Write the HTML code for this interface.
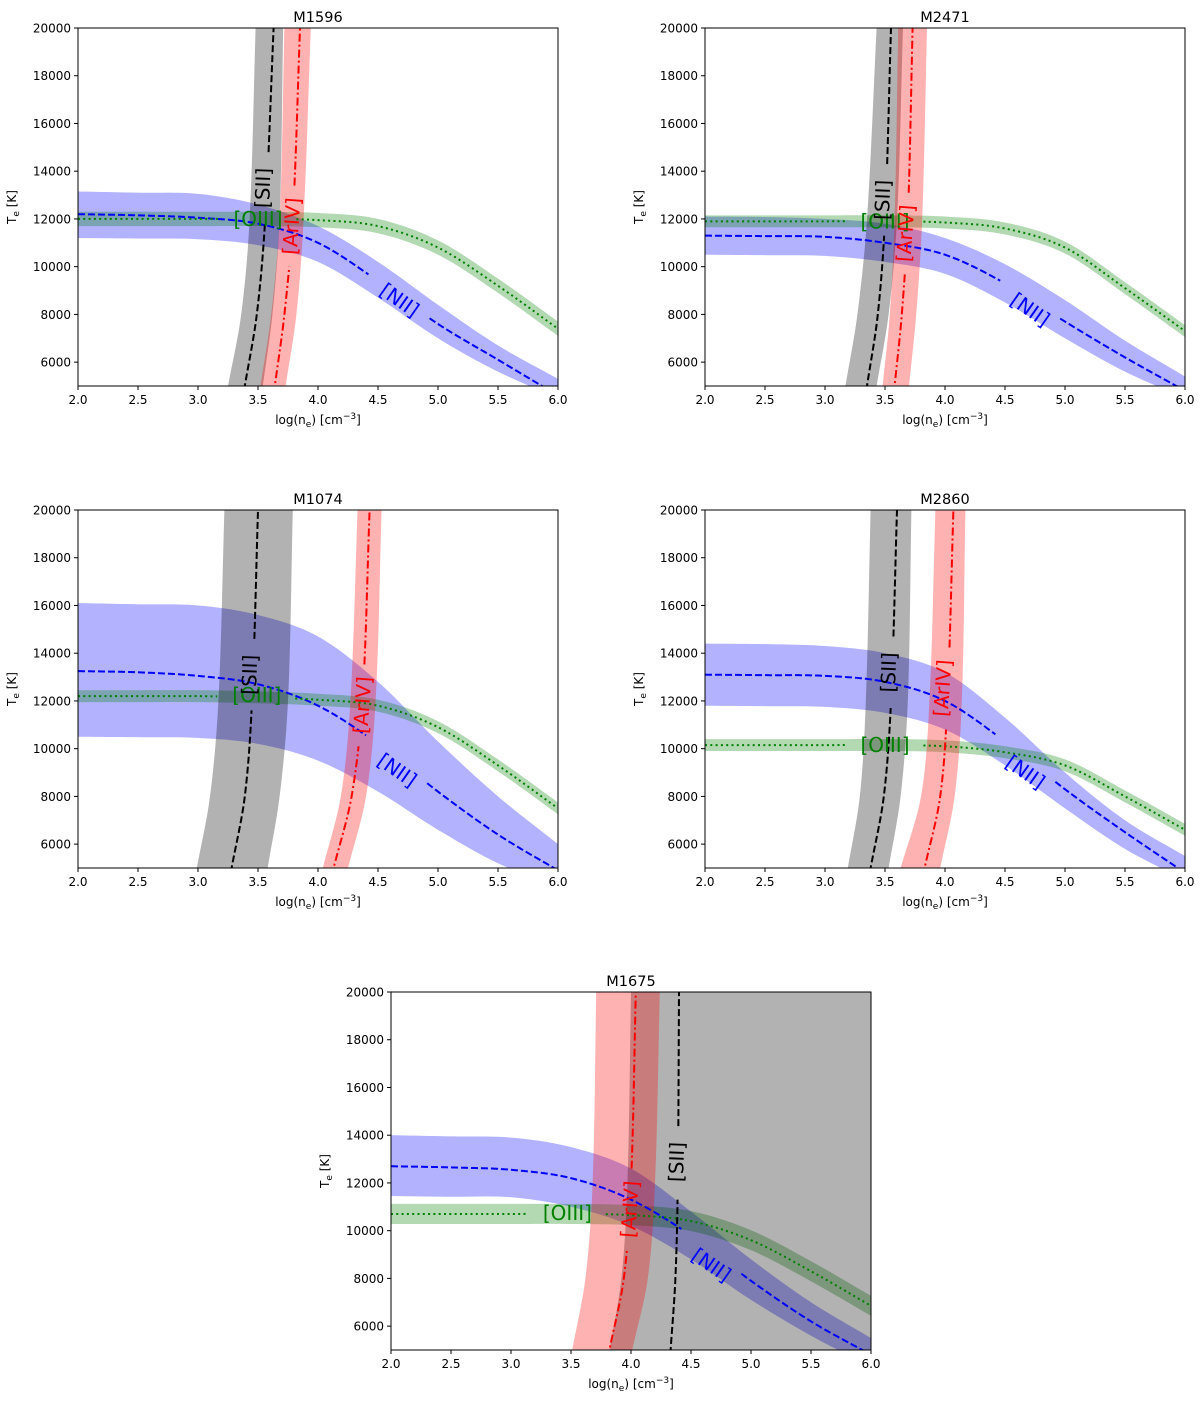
<!DOCTYPE html>
<html><head><meta charset="utf-8"><style>
body{margin:0;background:#fff;}
svg{display:block;font-family:"DejaVu Sans","Liberation Sans",sans-serif;}
</style></head><body>
<svg id="fig" width="1200" height="1401" viewBox="0 0 1200 1401"></svg>
<script>
const panelNames = ["M1596","M2471","M1074","M2860","M1675"];
const xGrid = [2,2.5,3,3.5,4,4.5,5,5.5,6];
const niiCenter = [
 [12200,12150,12050,11800,11000,9400,7600,6100,4600],
 [11300,11280,11250,11000,10500,9300,7700,6200,4800],
 [13250,13200,13050,12700,11800,10200,8200,6400,4900],
 [13100,13080,13050,12800,12000,10300,8300,6500,4800],
 [12700,12650,12550,12200,11300,9800,7900,6200,4800]];
const niiUpper = [
 [13150,13100,13050,12600,11700,10200,8400,6700,5300],
 [12100,12080,12000,11800,11200,10100,8600,6900,5400],
 [16100,16050,16000,15600,14700,12800,10300,8000,6000],
 [14400,14380,14300,14000,13200,11300,9000,7000,5500],
 [14000,13950,13900,13500,12600,10800,8800,7000,5500]];
const niiLower = [
 [11200,11180,11150,10900,10200,8700,7000,5600,4500],
 [10500,10480,10450,10200,9700,8500,7000,5600,4500],
 [10500,10480,10450,10200,9500,8200,6600,5200,4200],
 [11800,11780,11750,11500,10800,9300,7500,5800,4500],
 [11450,11420,11400,11000,10200,8800,7100,5600,4300]];
const oiiiCenter = [
 [12000,12000,12000,12000,11950,11700,10800,9200,7400],
 [11900,11900,11900,11900,11850,11600,10800,9100,7300],
 [12200,12200,12200,12150,12050,11800,10900,9300,7500],
 [10150,10150,10150,10150,10100,9850,9300,8000,6600],
 [10700,10700,10700,10700,10650,10400,9600,8300,6850]];
const oiiiHalf = [300,250,250,250,420];
const tGrid = [5000,8000,12000,20000];
const siiCenter = [[3.39,3.49,3.56,3.63],[3.35,3.44,3.50,3.55],[3.28,3.39,3.45,3.50],[3.38,3.49,3.55,3.60],[4.33,4.37,4.39,4.40]];
const siiLeft = [[3.25,3.36,3.43,3.48],[3.17,3.27,3.35,3.43],[2.99,3.10,3.17,3.22],[3.19,3.29,3.34,3.38],[3.82,3.92,3.97,4.00]];
const siiRight = [[3.54,3.62,3.68,3.71],[3.43,3.53,3.60,3.65],[3.58,3.68,3.75,3.79],[3.53,3.63,3.69,3.72],[7,7,7,7]];
const arCenter = [[3.64,3.72,3.79,3.85],[3.58,3.64,3.69,3.73],[4.13,4.28,4.37,4.43],[3.83,3.96,4.02,4.07],[3.82,3.94,4.00,4.04]];
const arLeft = [[3.52,3.61,3.68,3.72],[3.48,3.54,3.58,3.61],[4.04,4.19,4.27,4.33],[3.63,3.80,3.87,3.92],[3.51,3.62,3.68,3.71]];
const arRight = [[3.73,3.82,3.88,3.94],[3.70,3.76,3.81,3.85],[4.25,4.40,4.48,4.53],[3.96,4.08,4.14,4.17],[4.01,4.14,4.20,4.24]];
// label positions [x, T]
const lblOIII = [[3.5,12000],[3.5,11900],[3.49,12250],[3.5,10150],[3.47,10740]];
const lblSII = [[3.54,13300],[3.48,12800],[3.43,13100],[3.53,13200],[4.38,12880]];
const lblAr = [[3.78,11700],[3.67,11400],[4.37,11830],[3.98,12540],[3.99,10900]];
const lblNII = [[4.68,8600],[4.71,8200],[4.66,9100],[4.67,9020],[4.67,8560]];
const xTicks = [2.0,2.5,3.0,3.5,4.0,4.5,5.0,5.5,6.0];
const yTicks = [6000,8000,10000,12000,14000,16000,18000,20000];

const origins = [[78,28],[705,28],[78,510],[705,510],[391,992]];
const W=480,H=358;
const NS="http://www.w3.org/2000/svg";
const fig=document.getElementById('fig');
function el(tag,attrs,parent){const e=document.createElementNS(NS,tag);for(const k in attrs)e.setAttribute(k,attrs[k]);(parent||fig).appendChild(e);return e;}
function interp(xs,ys,x){
 const n=xs.length;
 if(x<=xs[0])return ys[0]+(ys[1]-ys[0])*(x-xs[0])/(xs[1]-xs[0]);
 if(x>=xs[n-1])return ys[n-1]+(ys[n-1]-ys[n-2])*(x-xs[n-1])/(xs[n-1]-xs[n-2]);
 let i=1;while(x>xs[i])i++;
 const x0=xs[i-1],x1=xs[i],y0=ys[i-1],y1=ys[i];
 const slope=(a,b)=>(ys[b]-ys[a])/(xs[b]-xs[a]);
 const m0=i-2>=0?slope(i-2,i):slope(i-1,i);
 const m1=i+1<n?slope(i-1,i+1):slope(i-1,i);
 const h=x1-x0,t=(x-x0)/h,t2=t*t,t3=t2*t;
 return (2*t3-3*t2+1)*y0+(t3-2*t2+t)*h*m0+(-2*t3+3*t2)*y1+(t3-t2)*h*m1;
}

panelNames.forEach((name,p)=>{
 const [ox,oy]=origins[p];
 const sx=v=>ox+(v-2)/4*W;
 const sy=t=>oy+(20000-t)/15000*H;
 const g=el('g',{});
 
 
 const cp=el('clipPath',{id:'cp'+p},g);
 el('rect',{x:ox,y:oy,width:W,height:H},cp);
 const plot=el('g',{'clip-path':'url(#cp'+p+')'},g);
 function hband(up,lo,color,nm){
  let pts=[];
  for(let x=2;x<=6.001;x+=0.04)pts.push(sx(x)+','+sy(interp(xGrid,up,x)));
  for(let x=6;x>=1.999;x-=0.04)pts.push(sx(x)+','+sy(interp(xGrid,lo,x)));
  const e=el('polygon',{points:pts.join(' '),fill:color,stroke:'none'},plot);
  
  
 }
 function vband(l,r,color,nm){
  let pts=[];
  for(let t=4000;t<=21000;t+=200)pts.push(sx(interp(tGrid,l,t))+','+sy(t));
  for(let t=21000;t>=4000;t-=200)pts.push(sx(interp(tGrid,r,t))+','+sy(t));
  const e=el('polygon',{points:pts.join(' '),fill:color,stroke:'none'},plot);
  
  
 }
 hband(niiUpper[p],niiLower[p],'rgba(0,0,255,0.3)','nii-band');
 const oU=oiiiCenter[p].map(v=>v+oiiiHalf[p]),oL=oiiiCenter[p].map(v=>v-oiiiHalf[p]);
 hband(oU,oL,'rgba(0,128,0,0.3)','oiii-band');
 vband(siiLeft[p],siiRight[p],'rgba(0,0,0,0.3)','sii-band');
 vband(arLeft[p],arRight[p],'rgba(255,0,0,0.3)','ariv-band');
 function hline(c,gx,gh,stroke,dash,nm){
  [[2,gx-gh],[gx+gh,6]].forEach(([a,b])=>{
   let pts=[];for(let x=a;x<=b+0.001;x+=0.02)pts.push(sx(x)+','+sy(interp(xGrid,c,x)));
   const e=el('polyline',{points:pts.join(' '),fill:'none',stroke:stroke,'stroke-width':2,'stroke-dasharray':dash},plot);
   
   
  });
 }
 function vline(c,gt,gh,stroke,dash,nm){
  [[4000,gt-gh],[gt+gh,21000]].forEach(([a,b])=>{
   let pts=[];for(let t=a;t<=b+1;t+=100)pts.push(sx(interp(tGrid,c,t))+','+sy(t));
   const e=el('polyline',{points:pts.join(' '),fill:'none',stroke:stroke,'stroke-width':2,'stroke-dasharray':dash},plot);
   
   
  });
 }
 hline(niiCenter[p],lblNII[p][0],0.25,'#0000ff','7,3','nii-line');
 hline(oiiiCenter[p],lblOIII[p][0],0.32,'#008000','2,3.3','oiii-line');
 vline(siiCenter[p],lblSII[p][1],1500,'#000','7,3','sii-line');
 vline(arCenter[p],lblAr[p][1],1700,'#ff0000','8,3,2,3','ariv-line');
 function label(txt,pos,color,rot,nm){
  const x=sx(pos[0]),y=sy(pos[1]);
  const t=el('text',{x:x,y:y,fill:color,'font-size':20,'text-anchor':'middle','dominant-baseline':'central',transform:'rotate('+rot+' '+x+' '+y+')'},g);
  t.textContent=txt;
  
  
 }
 label('[OIII]',lblOIII[p],'#008000',0,'oiii-label');
 label('[SII]',lblSII[p],'#000',-88,'sii-label');
 label('[ArIV]',lblAr[p],'#ff0000',-86,'ariv-label');
 label('[NII]',lblNII[p],'#0000ff',35,'nii-label');
 const fr=el('rect',{x:ox,y:oy,width:W,height:H,fill:'none',stroke:'#000','stroke-width':1},g);
 
 
 xTicks.forEach(v=>{
  const x=sx(v);el('line',{x1:x,y1:oy+H,x2:x,y2:oy+H+4,stroke:'#000'},g);
  const t=el('text',{x:x,y:oy+H+18,'font-size':12,'text-anchor':'middle'},g);t.textContent=v.toFixed(1);
  
  
 });
 yTicks.forEach(v=>{
  const y=sy(v);el('line',{x1:ox-4,y1:y,x2:ox,y2:y,stroke:'#000'},g);
  const t=el('text',{x:ox-7,y:y+4.5,'font-size':12,'text-anchor':'end'},g);t.textContent=v;
  
  
 });
 const ti=el('text',{x:ox+W/2,y:oy-6,'font-size':14.5,'text-anchor':'middle'},g);ti.textContent=name;
 
 
 const xl=el('text',{x:ox+W/2,y:oy+H+38,'font-size':12,'text-anchor':'middle'},g);
 xl.innerHTML='log(n<tspan font-size="9" dy="3">e</tspan><tspan dy="-3">) [cm</tspan><tspan font-size="9" dy="-5">−3</tspan><tspan dy="5">]</tspan>';
 
 
 const yx=ox-62,yy=oy+H/2;
 const yl=el('text',{x:yx,y:yy,'font-size':12,'text-anchor':'middle',transform:'rotate(-90 '+yx+' '+yy+')'},g);
 yl.innerHTML='T<tspan font-size="9" dy="3">e</tspan><tspan dy="-3"> [K]</tspan>';
 
 
});
</script>
</body></html>
